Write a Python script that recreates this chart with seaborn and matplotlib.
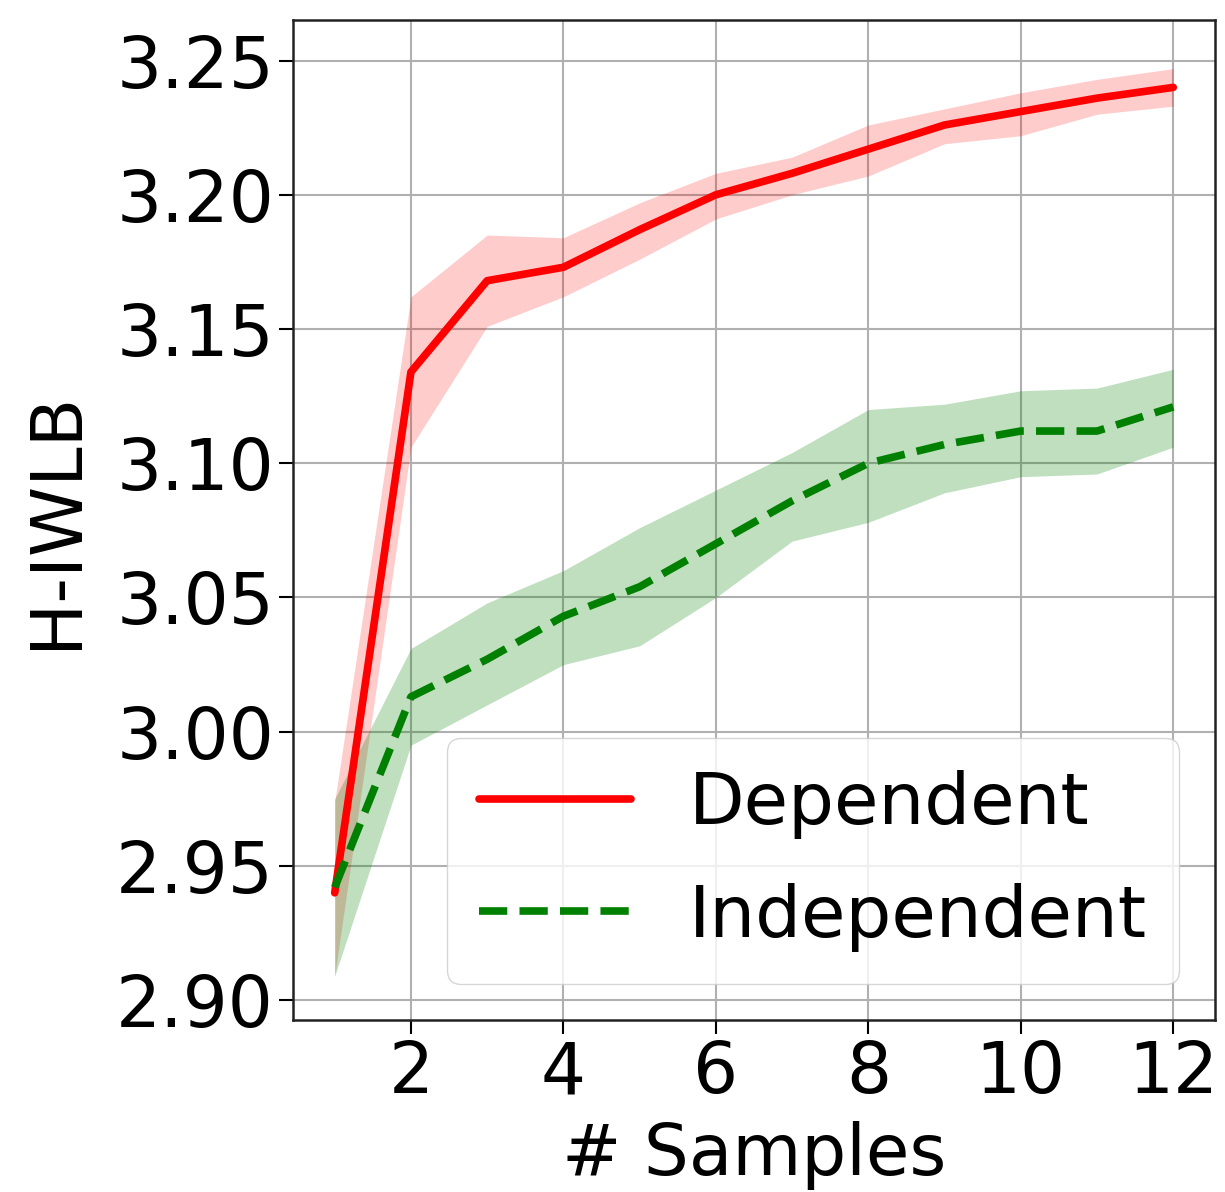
import numpy as np
import pandas as pd
import matplotlib
matplotlib.use("Agg")
import matplotlib.pyplot as plt
import seaborn as sns

# values
samples = [1, 2, 3, 4, 5, 6, 7, 8, 9, 10, 11, 12]

dep_mean = [2.940, 3.134, 3.168, 3.173, 3.187, 3.200, 3.208, 3.217, 3.226, 3.231, 3.236, 3.240]
dep_low = [2.909, 3.106, 3.151, 3.162, 3.176, 3.191, 3.200, 3.207, 3.219, 3.222, 3.230, 3.233]
dep_high = [2.974, 3.162, 3.185, 3.184, 3.197, 3.208, 3.214, 3.226, 3.232, 3.238, 3.243, 3.247]

ind_mean = [2.942, 3.013, 3.027, 3.043, 3.054, 3.070, 3.086, 3.100, 3.107, 3.112, 3.112, 3.121]
ind_low = [2.909, 2.995, 3.010, 3.025, 3.032, 3.050, 3.071, 3.078, 3.089, 3.095, 3.096, 3.106]
ind_high = [2.975, 3.031, 3.048, 3.060, 3.076, 3.090, 3.104, 3.120, 3.122, 3.127, 3.128, 3.135]

sns.set_style("ticks")
plt.rcParams['font.family'] = ['DejaVu Sans']
plt.rcParams['text.color'] = 'black'
plt.rcParams['axes.labelcolor'] = 'black'
plt.rcParams['xtick.color'] = 'black'
plt.rcParams['ytick.color'] = 'black'

df = pd.DataFrame({
    'x': samples * 2,
    'y': dep_mean + ind_mean,
    'method': ['Dependent'] * len(samples) + ['Independent'] * len(samples),
})

fig, ax = plt.subplots(figsize=(12.25, 11.92), dpi=100)
fig.subplots_adjust(left=0.239, right=0.992, top=0.983, bottom=0.144)

ax.fill_between(samples, dep_low, dep_high, color='red', alpha=0.2, linewidth=0)
ax.fill_between(samples, ind_low, ind_high, color='green', alpha=0.25, linewidth=0)

sns.lineplot(data=df, x='x', y='y', hue='method', style='method',
             palette={'Dependent': 'red', 'Independent': 'green'},
             dashes={'Dependent': '', 'Independent': (3.7, 1.6)},
             linewidth=5.5, ax=ax)

ax.set_xlim(0.45, 12.55)
ax.set_ylim(2.8925, 3.265)
ax.set_xticks([2, 4, 6, 8, 10, 12])
ax.set_yticks(np.arange(2.90, 3.2501, 0.05))
ax.yaxis.set_major_formatter(matplotlib.ticker.FormatStrFormatter('%.2f'))
ax.grid(True, color='#b0b0b0', linewidth=1.5)
ax.tick_params(labelsize=51, length=10, width=1.5)
for s in ax.spines.values():
    s.set_linewidth(1.8)
    s.set_color('#222222')

ax.set_xlabel('# Samples', fontsize=51, labelpad=9)
ax.set_ylabel('H-IWLB', fontsize=51, labelpad=18)

ax.legend(title=None, loc='lower right', fontsize=52, handlelength=2.1,
          borderpad=0.45, labelspacing=0.6, framealpha=0.8)

fig.savefig('out.png', dpi=100)
